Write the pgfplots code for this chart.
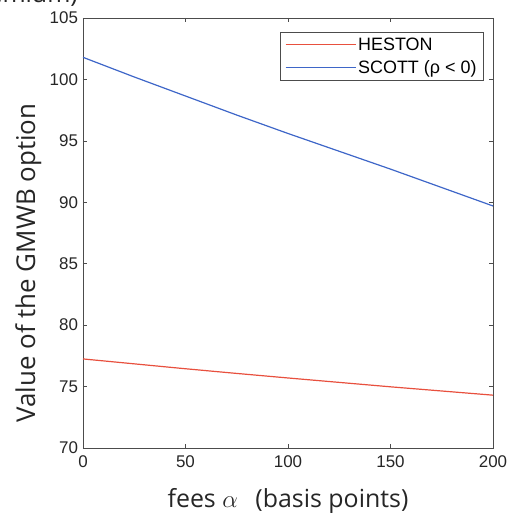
\documentclass[border=0pt]{standalone}
\usepackage{pgfplots}
\pgfplotsset{compat=1.18}
\usepackage{fontspec}
\setmainfont{Liberation Sans}
\newfontfamily\labelfont{Open Sans}
\definecolor{hred}{RGB}{232,80,62}
\definecolor{sblue}{RGB}{62,102,200}
\begin{document}
\begin{tikzpicture}[x=1bp,y=1bp]
\begin{axis}[
  at={(0,0)}, anchor=south west,
  width=410bp, height=430bp, scale only axis=true,
  xmin=0, xmax=200, ymin=70, ymax=105,
  xtick={0,50,100,150,200},
  ytick={70,75,80,85,90,95,100,105},
  tick align=inside,
  major tick length=4.5bp,
  tick style={black!70, line width=0.6bp},
  axis line style={black!70, line width=0.7bp},
  /pgf/number format/assume math mode=true,
  ticklabel style={font=\fontsize{17}{18}\selectfont, text=black!85},
  xticklabel style={yshift=-4bp},
  yticklabel style={xshift=-1.5bp},
  xlabel={fees $\alpha$\;\, (basis points)},
  ylabel={Value of the GMWB option},
  xlabel style={font=\labelfont\fontsize{25}{26}\selectfont, text=black!85, at={(axis description cs:0.5,0)}, anchor=base, yshift=-59bp},
  ylabel style={font=\labelfont\fontsize{26}{27}\selectfont, text=black!85, at={(axis description cs:-0.117,0.43)}, anchor=base},
  legend style={at={(0.9775,0.967)}, anchor=north east, draw=black!70, line width=0.6bp,
    font=\fontsize{18}{19}\selectfont, row sep=5bp, inner xsep=5bp, inner ysep=3bp},
  legend cell align=left,
  legend image code/.code={\path (-7bp,0bp) -- (63bp,0bp); \draw[#1] (0bp,0bp) -- (57bp,0bp);},
]
\addplot[hred, line width=1.2bp] coordinates {
 (0,77.25) (25,76.85) (50,76.45) (75,76.07) (100,75.70) (125,75.34) (150,74.98) (175,74.64) (200,74.30)};
\addlegendentry{HESTON}
\addplot[sblue, line width=1.2bp] coordinates {
 (0,101.8) (25,100.2) (50,98.65) (75,97.1) (100,95.6) (125,94.15) (150,92.7) (175,91.2) (200,89.7)};
\addlegendentry{SCOTT (ρ < 0)}
\end{axis}
\node[font=\labelfont\fontsize{25}{26}\selectfont, text=black!85, anchor=base east, inner sep=0] at (-5bp,445bp) {(premium)};
\pgfresetboundingbox
\useasboundingbox (-83bp,-66bp) rectangle (424bp,448bp);
\end{tikzpicture}
\end{document}
